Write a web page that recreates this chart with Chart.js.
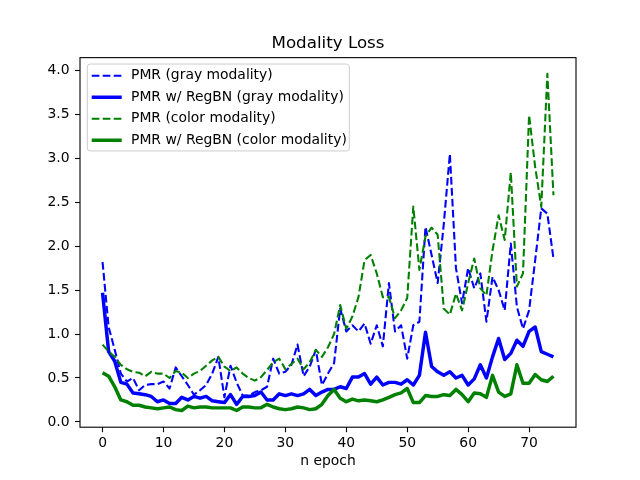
<!DOCTYPE html>
<html>
<head>
<meta charset="utf-8">
<script src="https://cdn.jsdelivr.net/npm/chart.js@4"></script>
<style>
  body { margin: 0; background: #fff; }
  #chart_loss { display: block; }
</style>
</head>
<body>
<canvas id="chart_loss" width="640" height="480"></canvas>
<script>
// values, one per epoch (0..74)
const pmr_gray = [
    1.82, 1.08, 0.82, 0.55, 0.46, 0.50, 0.36, 0.42, 0.43, 0.43,
    0.46, 0.38, 0.62, 0.52, 0.42, 0.31, 0.36, 0.42, 0.55, 0.74,
    0.28, 0.64, 0.45, 0.30, 0.30, 0.34, 0.36, 0.40, 0.72, 0.55,
    0.57, 0.65, 0.88, 0.52, 0.63, 0.82, 0.42, 0.55, 0.67, 1.29,
    1.03, 1.10, 1.03, 1.12, 0.89, 1.10, 0.86, 1.58, 1.03, 1.10,
    0.72, 1.10, 1.14, 2.22, 1.90, 1.58, 2.25, 3.05, 1.75, 1.35,
    1.75, 1.52, 1.69, 1.14, 1.65, 1.50, 1.27, 2.03, 1.31, 1.06,
    1.27, 1.84, 2.43, 2.37, 1.86,
];
const regbn_gray = [
    1.47, 0.80, 0.69, 0.45, 0.43, 0.33, 0.32, 0.31, 0.29, 0.23,
    0.25, 0.21, 0.21, 0.28, 0.25, 0.29, 0.27, 0.29, 0.24, 0.23,
    0.22, 0.31, 0.20, 0.29, 0.29, 0.30, 0.34, 0.25, 0.25, 0.32,
    0.30, 0.32, 0.30, 0.32, 0.37, 0.30, 0.34, 0.37, 0.37, 0.40,
    0.38, 0.51, 0.51, 0.55, 0.43, 0.51, 0.42, 0.45, 0.45, 0.43,
    0.48, 0.42, 0.53, 1.02, 0.63, 0.57, 0.53, 0.57, 0.50, 0.53,
    0.42, 0.49, 0.65, 0.50, 0.74, 0.95, 0.71, 0.78, 0.93, 0.86,
    1.03, 1.08, 0.80, 0.77, 0.74,
];
const pmr_color = [
    0.88, 0.80, 0.74, 0.65, 0.60, 0.57, 0.56, 0.52, 0.57, 0.55,
    0.55, 0.50, 0.58, 0.56, 0.50, 0.55, 0.58, 0.64, 0.70, 0.74,
    0.63, 0.58, 0.62, 0.55, 0.50, 0.47, 0.51, 0.59, 0.68, 0.72,
    0.60, 0.66, 0.72, 0.60, 0.68, 0.82, 0.74, 0.85, 1.00, 1.33,
    1.06, 1.20, 1.42, 1.84, 1.90, 1.69, 1.42, 1.42, 1.18, 1.27,
    1.41, 2.45, 1.73, 2.11, 2.21, 2.13, 1.29, 1.22, 1.46, 1.27,
    1.58, 1.86, 1.52, 1.44, 1.95, 2.35, 2.07, 2.84, 1.54, 1.69,
    3.49, 2.90, 2.45, 3.96, 2.58,
];
const regbn_color = [
    0.56, 0.52, 0.40, 0.25, 0.23, 0.19, 0.19, 0.17, 0.16, 0.15,
    0.16, 0.17, 0.14, 0.13, 0.18, 0.16, 0.17, 0.17, 0.16, 0.16,
    0.16, 0.16, 0.13, 0.17, 0.17, 0.16, 0.16, 0.20, 0.17, 0.15,
    0.14, 0.15, 0.17, 0.16, 0.14, 0.15, 0.20, 0.30, 0.37, 0.27,
    0.23, 0.26, 0.24, 0.25, 0.24, 0.23, 0.25, 0.28, 0.31, 0.33,
    0.38, 0.22, 0.22, 0.30, 0.29, 0.29, 0.31, 0.30, 0.37, 0.31,
    0.23, 0.33, 0.32, 0.28, 0.53, 0.34, 0.29, 0.32, 0.65, 0.44,
    0.44, 0.54, 0.48, 0.46, 0.52,
];
const epochs = pmr_gray.map((_, i) => i);

const x_ticks = [0, 10, 20, 30, 40, 50, 60, 70];
const y_ticks = [0.0, 0.5, 1.0, 1.5, 2.0, 2.5, 3.0, 3.5, 4.0];

const points = (values) => values.map((v, i) => ({ x: epochs[i], y: v }));

Chart.defaults.font.family = 'DejaVu Sans';
Chart.defaults.font.size = 13.9;
Chart.defaults.color = '#000';

// matplotlib style legend in the upper left corner of the axes,
// built from the datasets (label, colour, width, dash)
const inner_legend = {
    id: 'inner_legend',
    afterDatasetsDraw(chart) {
        const ctx = chart.ctx;
        const { left, top } = chart.chartArea;
        const row0 = top + 18.1;
        const row_gap = 21.5;
        const line_x = left + 11.7;
        const line_w = 30;
        const text_x = left + 51;
        const sets = chart.data.datasets;

        ctx.save();
        ctx.font = '13.9px "DejaVu Sans"';
        const text_w = Math.max(...sets.map((ds) => ctx.measureText(ds.label).width));
        const x0 = left + 7.3;
        const y0 = top + 6.4;
        const x1 = text_x + text_w + 2.5;
        const y1 = row0 + row_gap * (sets.length - 1) + 10.7;
        ctx.beginPath();
        ctx.roundRect(x0, y0, x1 - x0, y1 - y0, 2.8);
        ctx.fillStyle = 'rgba(255,255,255,0.8)';
        ctx.fill();
        ctx.lineWidth = 1;
        ctx.strokeStyle = '#cccccc';
        ctx.stroke();

        sets.forEach((ds, k) => {
            const y = row0 + k * row_gap;
            ctx.beginPath();
            ctx.setLineDash(ds.borderDash || []);
            ctx.lineWidth = ds.borderWidth;
            ctx.strokeStyle = ds.borderColor;
            ctx.lineCap = 'butt';
            ctx.moveTo(line_x, y);
            ctx.lineTo(line_x + line_w, y);
            ctx.stroke();
            ctx.setLineDash([]);
            ctx.fillStyle = '#000';
            ctx.textAlign = 'left';
            ctx.textBaseline = 'middle';
            ctx.fillText(ds.label, text_x, y);
        });
        ctx.restore();
    },
};

// box around the axes
const spines = {
    id: 'spines',
    afterDatasetsDraw(chart) {
        const { left, top, right, bottom } = chart.chartArea;
        const ctx = chart.ctx;
        ctx.save();
        ctx.lineWidth = 1.1;
        ctx.strokeStyle = '#000';
        ctx.strokeRect(left, top, right - left, bottom - top);
        ctx.restore();
    },
};

const dashed = [7.7, 3.3];

const data = {
    datasets: [
        {
            label: 'PMR (gray modality)',
            data: points(pmr_gray),
            borderColor: '#0000ff',
            backgroundColor: '#0000ff',
            borderWidth: 2.08,
            borderDash: dashed,
            order: 4,
        },
        {
            label: 'PMR w/ RegBN (gray modality)',
            data: points(regbn_gray),
            borderColor: '#0000ff',
            backgroundColor: '#0000ff',
            borderWidth: 3.47,
            order: 3,
        },
        {
            label: 'PMR (color modality)',
            data: points(pmr_color),
            borderColor: '#008000',
            backgroundColor: '#008000',
            borderWidth: 2.08,
            borderDash: dashed,
            order: 2,
        },
        {
            label: 'PMR w/ RegBN (color modality)',
            data: points(regbn_color),
            borderColor: '#008000',
            backgroundColor: '#008000',
            borderWidth: 3.47,
            order: 1,
        },
    ],
};

const options = {
    responsive: false,
    animation: false,
    devicePixelRatio: 1,
    layout: {
        padding: { left: 0, right: 64, top: 24, bottom: 0 },
    },
    elements: {
        point: { radius: 0, hoverRadius: 0 },
        line: { tension: 0, borderJoinStyle: 'round', fill: false },
    },
    plugins: {
        title: {
            display: true,
            text: 'Modality Loss',
            fullSize: false,
            font: { size: 16.7, weight: 'normal' },
            padding: { top: 10, bottom: 3.6 },
        },
        legend: { display: false },
        tooltip: { enabled: false },
    },
    scales: {
        x: {
            type: 'linear',
            min: -3.7,
            max: 77.7,
            afterBuildTicks: (axis) => { axis.ticks = x_ticks.map((v) => ({ value: v })); },
            afterFit: (axis) => { axis.height = 52.8; },
            ticks: { padding: 2.5, maxRotation: 0, callback: (v) => String(v) },
            grid: { drawOnChartArea: false, drawTicks: true, tickLength: 5, tickColor: '#000', tickWidth: 1.1 },
            border: { display: false },
            title: {
                display: true,
                text: 'n epoch',
                font: { size: 13.9 },
                padding: { top: 0, bottom: 10.1 },
            },
        },
        y: {
            type: 'linear',
            min: -0.06,
            max: 4.145,
            afterBuildTicks: (axis) => { axis.ticks = y_ticks.map((v) => ({ value: v })); },
            afterFit: (axis) => { axis.width = 80; },
            ticks: { padding: 5.5, callback: (v) => v.toFixed(1) },
            grid: { drawOnChartArea: false, drawTicks: true, tickLength: 5, tickColor: '#000', tickWidth: 1.1 },
            border: { display: false },
        },
    },
};

const chart = new Chart(document.getElementById('chart_loss'), {
    type: 'line',
    data: data,
    options: options,
    plugins: [inner_legend, spines],
});
</script>
</body>
</html>
